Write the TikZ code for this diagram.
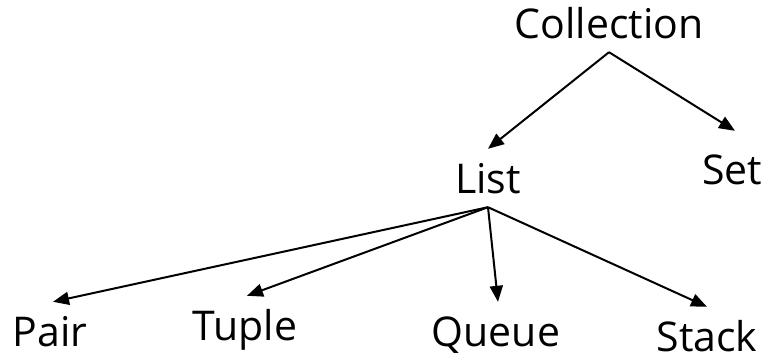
\documentclass[tikz,border=0pt]{standalone}
\usepackage{fontspec}
\setmainfont{Open Sans}
\usepackage{tikz}
\usetikzlibrary{arrows.meta}
\tikzset{
    class-name/.style = {anchor=base, inner xsep=0pt, inner ysep=14pt, text height=30pt, text depth=0pt, font=\fontsize{41}{49}\selectfont},
    class-arrow/.style = {line width=2pt, -{Triangle[length=16pt,width=13pt]}},
}
\begin{document}
\begin{tikzpicture}[x=1pt,y=-1pt]
\useasboundingbox (0,0) rectangle (769,359);
\node[class-name] (collection) at (609,38) {Collection};
\node[class-name] (list) at (488,193) {List};
\node[class-name] (set) at (732,184) {Set};
\node[class-name] (pair) at (50,346) {Pair};
\node[class-name] (tuple) at (245,340) {Tuple};
\node[class-name] (queue) at (496,346) {Queue};
\node[class-name] (stack) at (707,351) {Stack};
\draw[class-arrow] (collection.south) -- (list.north);
\draw[class-arrow] (collection.south) -- ([xshift=3pt,yshift=9pt]set.north);
\draw[class-arrow] (list.south) -- ([xshift=3pt]pair.north);
\draw[class-arrow] (list.south) -- ([xshift=2pt]tuple.north);
\draw[class-arrow] (list.south) -- ([xshift=2pt]queue.north);
\draw[class-arrow] (list.south) -- (stack.north);
\end{tikzpicture}
\end{document}
